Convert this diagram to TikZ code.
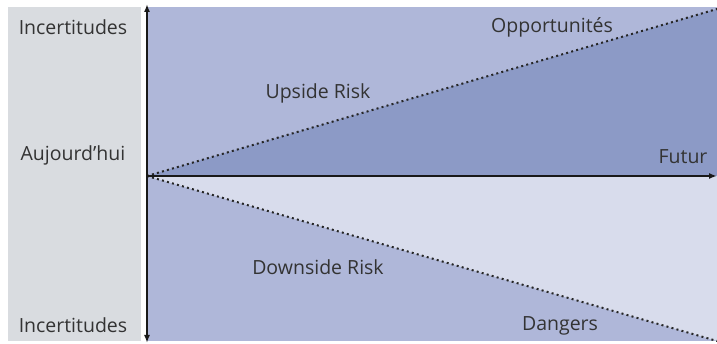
\documentclass[tikz,border=0pt]{standalone}
\usepackage{fontspec}
\setmainfont{Open Sans}
\usetikzlibrary{arrows.meta,positioning,calc}
\definecolor{panelgray}{HTML}{D9DCE0}
\definecolor{riskblue}{HTML}{AFB7D9}
\definecolor{upblue}{HTML}{8C9AC6}
\definecolor{futlight}{HTML}{D8DCEC}
\definecolor{labelgray}{HTML}{333333}

\tikzset{
	label text/.style={text=labelgray, font=\fontsize{19.5}{22}\selectfont, inner sep=0pt},
	risk line/.style={line width=2pt, dash pattern=on 2pt off 3.2pt, black!85},
	axis line/.style={line width=2pt, black!90, >={Latex[length=8pt,width=6pt]}}
}

\begin{document}
\begin{tikzpicture}[x=1pt,y=-1pt]
		\useasboundingbox (0,0) rectangle (717,344);

		% fixed points
		\coordinate (today) at (147,176);
		\coordinate (upend) at (717,9);
		\coordinate (downend) at (717,341);
		\coordinate (futend) at (717,176);
		\coordinate (top) at (147,4);
		\coordinate (bottom) at (147,343);

		% background panels
		\fill[panelgray] (8,7) rectangle (141,341);
		\fill[riskblue] (147,7) rectangle (717,341);
		\fill[upblue] (today) -- (upend) -- (futend) -- cycle;
		\fill[futlight] (today) -- (futend) -- (downend) -- cycle;

		% left labels
		\node[label text] (unctop) at (73,27) {Incertitudes};
		\node[label text] (today label) at (73,155) {Aujourd’hui};
		\node[label text] (uncbot) at (73,325) {Incertitudes};

		% right labels
		\node[label text] (opp) at (552,27) {Opportunités};
		\node[label text] (upside) at (318,93) {Upside Risk};
		\node[label text] (futur) at (683,157) {Futur};
		\node[label text] (downside) at (318,267) {Downside Risk};
		\node[label text] (dangers) at (560,326) {Dangers};

		\draw[risk line] (today) -- (upend);
		\draw[risk line] (today) -- (downend);

		\draw[axis line,->] (today) -- (futend);
		\draw[axis line,<->] (bottom) -- (top);

	\end{tikzpicture}
\end{document}
